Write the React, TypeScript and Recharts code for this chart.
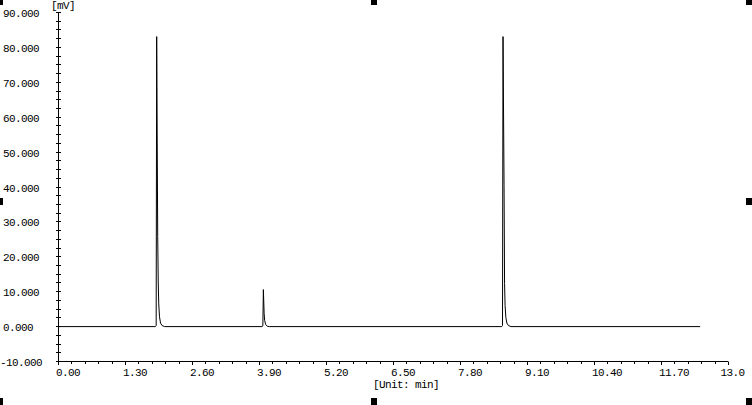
import React from "react";
import { LineChart, Line, XAxis, YAxis } from "recharts";

// ---- tick labels ----
const xMajorValues = [0, 1.3, 2.6, 3.9, 5.2, 6.5, 7.8, 9.1, 10.4, 11.7, 13.0];
const xMajorLabels = ["0.00", "1.30", "2.60", "3.90", "5.20", "6.50", "7.80", "9.10", "10.40", "11.70", "13.0"];
const yMajorValues = [-10, 0, 10, 20, 30, 40, 50, 60, 70, 80, 90];
const yMajorLabels = ["-10.000", "0.000", "10.000", "20.000", "30.000", "40.000", "50.000", "60.000", "70.000", "80.000", "90.000"];

// ---- chromatogram series (min, mV) ----
const timeMin = [
  0, 1.88, 1.895, 1.905, 1.925, 1.935, 1.945, 1.96, 1.98, 2.01, 2.06,
  3.95, 3.965, 3.975, 3.99, 4.0, 4.02, 4.05, 4.09,
  8.6, 8.615, 8.625, 8.645, 8.655, 8.665, 8.68, 8.7, 8.73, 8.78,
  12.45,
];
const signalMV = [
  0, 0, 0.3, 83.1, 25.8, 12.8, 6.5, 2.8, 1.0, 0.3, 0,
  0, 0.2, 10.6, 3.8, 1.8, 0.6, 0.1, 0,
  0, 0.3, 83.1, 40.4, 12.3, 6.0, 2.6, 1.0, 0.3, 0,
  0,
];

const data = timeMin.map((t, i) => ({ t, mV: signalMV[i] }));

function subdivide(majors: number[], parts: number): number[] {
  const out: number[] = [];
  for (let i = 0; i < majors.length - 1; i++) {
    const a = majors[i];
    const b = majors[i + 1];
    for (let k = 0; k < parts; k++) out.push(Math.round((a + ((b - a) * k) / parts) * 1000) / 1000);
  }
  out.push(majors[majors.length - 1]);
  return out;
}
const xTicks = subdivide(xMajorValues, 5);
const yTicks = subdivide(yMajorValues, 4);

const FONT = "'Liberation Mono', 'DejaVu Sans Mono', monospace";

const majorIndex = (arr: number[], v: number) => arr.findIndex((m) => Math.abs(m - v) < 1e-6);

const XTick = (props: any) => {
  const { x, payload } = props;
  const v = payload.value;
  const mi = majorIndex(xMajorValues, v);
  const isMajor = mi >= 0;
  const last = mi === xMajorValues.length - 1;
  return (
    <g>
      <line x1={x} x2={x} y1={361.5} y2={isMajor ? 365 : 364} stroke="#000" strokeWidth={1} shapeRendering="crispEdges" />
      {isMajor && (
        <text
          x={last ? x - 8 : x - 2.5}
          y={375.5}
          textAnchor="start"
          fontFamily={FONT}
          fontSize={11}
          letterSpacing={-0.6}
          fill="#000"
        >
          {xMajorLabels[mi]}
        </text>
      )}
    </g>
  );
};

const YTick = (props: any) => {
  const { y, payload } = props;
  const v = payload.value;
  const mi = majorIndex(yMajorValues, v);
  const isMajor = mi >= 0;
  return (
    <g>
      <line x1={56} x2={61} y1={y} y2={y} stroke="#000" strokeWidth={1} shapeRendering="crispEdges" />
      {isMajor && (
        <text
          x={v < 0 ? 0 : 3}
          y={y + 4.5}
          textAnchor="start"
          fontFamily={FONT}
          fontSize={11}
          letterSpacing={-0.6}
          fill="#000"
        >
          {yMajorLabels[mi]}
        </text>
      )}
    </g>
  );
};

const handles: { left: number; top: number }[] = [
  { left: -3, top: -2 },
  { left: 371, top: -2 },
  { left: 746, top: -2 },
  { left: -3, top: 198 },
  { left: 746, top: 198 },
  { left: -3, top: 398 },
  { left: 371, top: 398 },
  { left: 746, top: 398 },
];

export default function App() {
  return (
    <div
      style={{
        position: "fixed",
        left: 0,
        top: 0,
        width: 752,
        height: 405,
        overflow: "hidden",
        background: "#fff",
      }}
    >
      <LineChart
        width={752}
        height={405}
        data={data}
        margin={{ top: 12.5, right: 23.5, left: 0, bottom: 0 }}
      >
        <XAxis
          dataKey="t"
          type="number"
          domain={[0, 13]}
          ticks={xTicks}
          interval={0}
          height={43.5}
          axisLine={{ stroke: "#000", strokeWidth: 1 }}
          tickLine={false}
          tick={<XTick />}
          allowDataOverflow
        />
        <XAxis
          xAxisId="top"
          orientation="top"
          type="number"
          domain={[0, 13]}
          height={0}
          tick={false}
          tickLine={false}
          axisLine={{ stroke: "#000", strokeWidth: 1 }}
        />
        <YAxis
          type="number"
          domain={[-10, 90]}
          ticks={yTicks}
          interval={0}
          width={58.5}
          axisLine={{ stroke: "#000", strokeWidth: 1 }}
          tickLine={false}
          tick={<YTick />}
          allowDataOverflow
        />
        <YAxis
          yAxisId="right"
          orientation="right"
          type="number"
          domain={[-10, 90]}
          width={0}
          tick={false}
          tickLine={false}
          axisLine={{ stroke: "#000", strokeWidth: 1 }}
        />
        <Line
          type="linear"
          dataKey="mV"
          stroke="#000"
          strokeWidth={1}
          dot={false}
          activeDot={false}
          isAnimationActive={false}
        />
      </LineChart>
      <div
        style={{
          position: "absolute",
          left: 51,
          top: 0,
          fontFamily: FONT,
          fontSize: 11,
          letterSpacing: -0.6,
          lineHeight: "12px",
          color: "#000",
        }}
      >
        [mV]
      </div>
      <div
        style={{
          position: "absolute",
          left: 373,
          top: 379,
          fontFamily: FONT,
          fontSize: 11,
          letterSpacing: -0.6,
          lineHeight: "12px",
          color: "#000",
          whiteSpace: "pre",
        }}
      >
        [Unit: min]
      </div>
      {handles.map((h, i) => (
        <div
          key={i}
          style={{ position: "absolute", left: h.left, top: h.top, width: 6, height: 7, background: "#000" }}
        />
      ))}
    </div>
  );
}
